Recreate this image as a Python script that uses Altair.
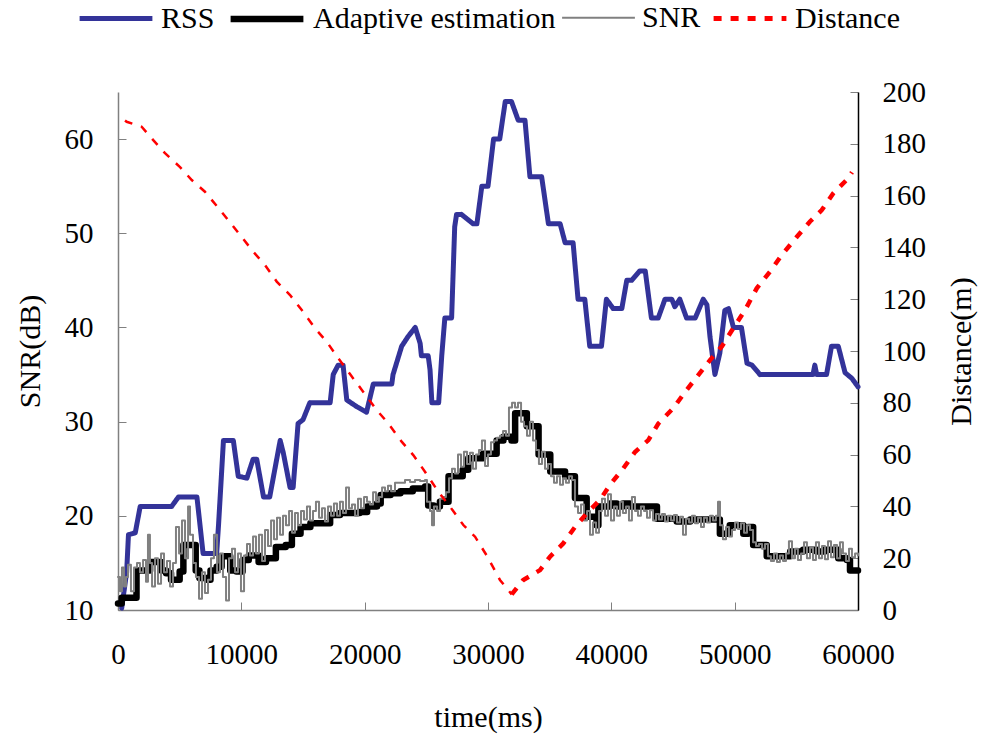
import altair as alt
import pandas as pd

# ---- series: time (ms) -> value ------------------------------------------
# RSS (dB, left axis)
rss_points = [
    (300, 10.2), (700, 14), (850, 18), (1400, 18.2), (1800, 21), (4350, 21),
    (4900, 22), (6400, 22), (6650, 19), (6900, 16), (8000, 16), (8150, 19),
    (8550, 28), (9350, 28), (9750, 24.2), (10450, 24), (10950, 26), (11250, 26),
    (11800, 22), (12300, 22), (13150, 28), (13400, 26.7), (13950, 23), (14200, 23),
    (14600, 29.8), (15000, 30.2), (15550, 32), (17200, 32), (17450, 35), (17850, 36),
    (18250, 36), (18550, 32.3), (19350, 31.6), (20150, 31), (20700, 34), (22200, 34),
    (22300, 35), (23000, 38), (23500, 39), (24100, 40), (24500, 38.3), (24600, 37),
    (25150, 37), (25300, 35.5), (25450, 32), (26000, 32), (26250, 37), (26500, 41),
    (27050, 41), (27300, 50.7), (27450, 52), (27850, 52), (28800, 51), (29100, 51),
    (29500, 55), (30000, 55), (30450, 60), (30950, 60), (31400, 64), (31900, 64),
    (32450, 62), (33000, 62), (33400, 56), (34350, 56), (34900, 51), (35850, 51),
    (36250, 49), (36900, 49), (37300, 43), (37850, 43), (38250, 38), (39200, 38),
    (39600, 43), (40150, 42), (40850, 42), (41250, 45), (41650, 45), (42300, 46),
    (42750, 46), (43250, 41), (43800, 41), (44350, 43), (44900, 43), (45150, 42.2),
    (45550, 43), (46100, 41), (46800, 41), (47450, 43), (47750, 42.4), (48000, 39),
    (48400, 35), (48800, 37.3), (49200, 41.8), (49500, 42), (49900, 40), (50550, 40),
    (51000, 36.2), (51400, 36), (52050, 35), (56350, 35), (56500, 36), (56650, 35),
    (57450, 35), (57850, 38), (58400, 38), (58950, 35.2), (59500, 34.6), (60000, 33.7),
]

# Adaptive estimation (dB, left axis), held value between updates
adaptive_points = [
    (0, 10.7), (300, 11.3), (1500, 14.2), (2600, 15.1), (3500, 14.2), (3900, 13.9),
    (4300, 13.2), (5000, 14.1), (5300, 16.9), (6300, 14.2), (6600, 13.4), (7200, 13.2),
    (7500, 14.2), (8000, 14.6), (8400, 15.7), (9100, 14.2), (9600, 14.1), (10100, 15.3),
    (10600, 15.8), (11400, 15.1), (12000, 15.5), (12800, 16.7), (13600, 16.9), (14100, 18.1),
    (14800, 18.8), (15600, 19.2), (17200, 20.1), (18000, 20.3), (19600, 20.4), (20200, 21.0),
    (21000, 21.3), (21300, 22.2), (22100, 22.4), (22900, 22.6), (23900, 22.9), (24900, 23.1),
    (25150, 21.1), (25600, 21.0), (26100, 21.5), (26800, 24.2), (27950, 24.9), (28400, 26.1),
    (29600, 26.6), (30700, 28.0), (31250, 28.4), (31900, 28.0), (32200, 30.9), (33150, 29.5),
    (34100, 26.5), (35050, 24.7), (36250, 24.2), (37050, 21.9), (38000, 19.9), (38800, 19.0),
    (38950, 21.0), (39900, 21.3), (40450, 21.0), (40950, 21.3), (41500, 21.0), (43700, 19.7),
    (45300, 19.4), (46400, 19.6), (48800, 18.1), (49600, 19.0), (50700, 18.1), (51100, 18.8),
    (51500, 16.9), (52600, 15.7), (54500, 16.2), (55550, 16.4), (56650, 16.2), (57300, 16.4),
    (58400, 15.5), (59100, 15.3), (59350, 14.2), (60000, 14.2),
]

# Measured SNR (dB, left axis)
snr_points = [
    (0, 13.5), (160, 12), (320, 14.5), (490, 12.5), (650, 13.5), (810, 14.8), (1050, 12),
    (1300, 14.5), (1540, 15), (1780, 14), (2030, 15.3), (2270, 13), (2430, 18), (2590, 15),
    (2760, 12.5), (3000, 15.5), (3240, 12.8), (3490, 16), (3730, 14), (3970, 15.2),
    (4220, 12.5), (4460, 15), (4700, 18.8), (4950, 16), (5190, 19.5), (5430, 15.5),
    (5680, 21), (5840, 18), (6080, 15), (6320, 13.5), (6570, 11.2), (6810, 14), (7050, 11.8),
    (7300, 13.2), (7540, 15.5), (7780, 18), (8030, 14), (8270, 16), (8510, 13.5), (8760, 11),
    (9000, 15.5), (9240, 16.5), (9490, 14), (9730, 16), (9970, 12), (10220, 15.8), (10460, 17),
    (10700, 15.8), (10950, 17.8), (11190, 16), (11430, 18), (11680, 15.2), (11920, 18.5),
    (12160, 16.8), (12410, 19.5), (12650, 17.5), (12890, 19.8), (13140, 18), (13380, 20),
    (13620, 19), (13870, 20.5), (14110, 18.2), (14350, 20.3), (14590, 19), (14840, 20.5),
    (15080, 19.6), (15320, 21), (15570, 19.5), (15810, 20.5), (16050, 21.5), (16300, 19.8),
    (16540, 20.8), (16780, 19.4), (17030, 21), (17270, 20), (17510, 21.3), (17760, 20),
    (18000, 21.5), (18240, 20.3), (18490, 23), (18730, 20.8), (18970, 21.2), (19220, 20),
    (19460, 21.8), (19700, 20.8), (19950, 22), (20190, 21.5), (20430, 21.2), (20680, 22.5),
    (20920, 21.5), (21160, 22), (21410, 23), (21650, 22.6), (21890, 23.2), (22140, 22.6),
    (22460, 23.5), (22860, 23.5), (23270, 23.8), (23680, 23.6), (24080, 23.8), (24490, 23.7),
    (24890, 23.8), (25050, 21.5), (25300, 20.5), (25460, 19), (25620, 21), (25870, 20.5),
    (26110, 21.8), (26350, 22), (26590, 22.5), (26840, 24), (27080, 25), (27320, 24.5),
    (27570, 26.5), (27810, 25.2), (28050, 26.8), (28300, 25.5), (28540, 26.7), (28780, 25),
    (29030, 26.5), (29270, 27), (29510, 28), (29760, 25.3), (30000, 26.5), (30240, 27.8),
    (30490, 28), (30730, 28.3), (30970, 28.5), (31220, 29), (31460, 28.5), (31700, 31.5),
    (31950, 32), (32190, 31.5), (32430, 32), (32680, 30), (32920, 29.5), (33160, 28.5),
    (33400, 30), (33650, 28), (33890, 27), (34130, 25.5), (34380, 26.8), (34620, 25),
    (34860, 25.5), (35110, 24.2), (35350, 23.5), (35590, 24.2), (35840, 23.3), (36080, 24),
    (36320, 23.5), (36570, 24.2), (36810, 23.8), (37050, 21), (37300, 20.3), (37540, 21.2),
    (37780, 19.5), (38030, 20.5), (38270, 18), (38510, 19.3), (38760, 18.2), (39000, 20.5),
    (39240, 21.8), (39490, 20), (39730, 22.3), (39970, 19.5), (40220, 21), (40460, 20),
    (40700, 21.5), (40940, 20.3), (41190, 21), (41430, 19.5), (41670, 22), (41920, 20.5),
    (42160, 20), (42400, 21), (42650, 20.5), (42890, 19.8), (43130, 20.6), (43380, 19.5),
    (43620, 20.2), (43860, 19.6), (44110, 20.2), (44350, 19.4), (44590, 20), (44840, 19.5),
    (45080, 20.1), (45320, 19.3), (45570, 19.9), (45810, 18), (46050, 19.7), (46300, 19.3),
    (46540, 20), (46780, 19.2), (47030, 19.8), (47270, 18.8), (47510, 19.8), (47760, 19.3),
    (48000, 20), (48240, 19.5), (48480, 20), (48650, 21.5), (48810, 19), (49050, 17.5),
    (49300, 18.8), (49540, 17.8), (49780, 18.5), (50030, 19.3), (50270, 18.6), (50510, 19.2),
    (50760, 18.2), (51000, 19), (51240, 18.5), (51490, 17.2), (51730, 16.8), (51970, 17),
    (52220, 16.5), (52460, 17), (52700, 15.7), (52940, 15.2), (53190, 16), (53430, 15.1),
    (53670, 15.8), (53920, 15.2), (54160, 16), (54400, 17.3), (54650, 15.5), (54890, 16.5),
    (55130, 15.3), (55380, 16), (55620, 17.2), (55860, 15.5), (56110, 16.6), (56350, 15.3),
    (56590, 17.2), (56840, 15.5), (57080, 16.8), (57320, 15.4), (57570, 17.3), (57810, 15.6),
    (58050, 16.9), (58300, 15.5), (58540, 17.2), (58780, 16), (59030, 15.2), (59270, 16.5),
    (59510, 15.6), (59760, 16), (60000, 15.8),
]

# Distance to the access point (m, right axis)
distance_points = [
    (570, 189), (705, 188.5), (1920, 186.6), (2840, 181.5), (3810, 176.4), (5030, 171),
    (5980, 166), (7050, 161.5), (8000, 156), (8940, 150.5), (10030, 144), (10970, 138.3),
    (11920, 133.2), (12870, 126.8), (13950, 121.6), (14900, 115.8), (15970, 108.8),
    (16920, 103.6), (17860, 97.2), (18810, 91.1), (19890, 84.2), (20980, 77.2), (21920, 72),
    (23000, 65), (23940, 59.8), (24890, 53.4), (25970, 45.7), (26920, 39.9), (28000, 32.8),
    (28950, 28.3), (29900, 21), (30970, 11.6), (31920, 6), (32860, 11.6), (34220, 15.4),
    (35030, 20.6), (36100, 25.7), (37050, 32), (38000, 37.3), (39080, 42.5), (39890, 48.3),
    (40970, 54.7), (41920, 61), (43000, 65.6), (43810, 72), (45020, 77.9), (46110, 85),
    (47050, 90.7), (48000, 96.5), (48950, 101.7), (49890, 108.8), (50840, 115.8),
    (51790, 124.2), (52860, 130.6), (53810, 137), (55030, 144), (56110, 150), (57060, 154.4),
    (58000, 160.9), (59210, 166.7), (59510, 169),
]

# ---- axes ticks / legend styling -------------------------------------------
time_ticks = [0, 10000, 20000, 30000, 40000, 50000, 60000]
snr_ticks = [10, 20, 30, 40, 50, 60]
distance_ticks = [0, 20, 40, 60, 80, 100, 120, 140, 160, 180, 200]

series_names = ["RSS", "Adaptive estimation", "SNR", "Distance"]
series_colors = ["#333399", "#000000", "#808080", "#ff0000"]
series_widths = [5, 6.5, 2, 5]
series_dashes = [[1, 0], [1, 0], [1, 0], [8, 9]]

FONT = "Liberation Serif"


def frame(points, name):
    df = pd.DataFrame(points, columns=["t", "value"])
    df["series"] = name
    return df


rss_df = frame(rss_points, "RSS")
adaptive_df = frame(adaptive_points, "Adaptive estimation")
snr_df = frame(snr_points, "SNR")
distance_df = frame(distance_points, "Distance")
t_closest = float(distance_df.loc[distance_df["value"].idxmin(), "t"])

inward = {"expr": "-8"}

x_axis = alt.Axis(
    values=time_ticks, format="d", title="time(ms)", tickSize=inward,
    tickColor="#808080", domainColor="#808080", domainWidth=1.5, labelPadding=38,
    labelFlush=False, titleY=107, titleBaseline="middle",
)
left_axis = alt.Axis(
    values=snr_ticks, title="SNR(dB)", tickSize=inward, tickColor="#808080",
    domainColor="#808080", domainWidth=1.5, labelPadding=33,
    titleX=-88, titleBaseline="middle", titleAngle=270,
)
right_axis = alt.Axis(
    values=distance_ticks, title="Distance(m)", orient="right", tickSize=inward,
    tickColor="#808080", domainColor="#000000", domainWidth=1.5, labelPadding=32,
    titleX=103, titleBaseline="middle", titleAngle=270,
)

x_enc = alt.X("t:Q", scale=alt.Scale(domain=[0, 60000], nice=False), axis=x_axis)
y_left = alt.Y("value:Q", scale=alt.Scale(domain=[10, 65], nice=False), axis=left_axis)
y_right = alt.Y("value:Q", scale=alt.Scale(domain=[0, 200], nice=False), axis=right_axis)

color_enc = alt.Color(
    "series:N", title=None,
    scale=alt.Scale(domain=series_names, range=series_colors),
)
width_enc = alt.StrokeWidth(
    "series:N", title=None,
    scale=alt.Scale(type="ordinal", domain=series_names, range=series_widths),
)
dash_enc = alt.StrokeDash(
    "series:N", title=None,
    scale=alt.Scale(domain=series_names, range=series_dashes),
)


def snr_layer(df, interpolate):
    return alt.Chart(df).mark_line(
        interpolate=interpolate, strokeJoin="round", strokeCap="round"
    ).encode(x=x_enc, y=y_left, color=color_enc, strokeWidth=width_enc, strokeDash=dash_enc)


left = alt.layer(
    snr_layer(rss_df, "linear"),
    snr_layer(adaptive_df, "step-after"),
    snr_layer(snr_df, "step-after"),
)

dist_base = alt.Chart(distance_df)
dist_approach = dist_base.transform_filter(alt.datum.t <= t_closest).mark_line(
    strokeWidth=2.5
).encode(x=x_enc, y=y_right, color=color_enc, strokeDash=dash_enc)
dist_leave = dist_base.transform_filter(alt.datum.t >= t_closest).mark_line(
    strokeWidth=4.5
).encode(x=x_enc, y=y_right, color=color_enc, strokeDash=dash_enc)

right = alt.layer(dist_approach, dist_leave)

chart = (
    alt.layer(left, right)
    .resolve_scale(y="independent")
    .properties(
        width=740,
        height=518,
        autosize=alt.AutoSizeParams(type="none"),
        padding={"left": 118, "top": 92, "right": 123, "bottom": 128},
        background="white",
    )
    .configure_view(stroke=None)
    .configure_axis(
        grid=False,
        labelFont=FONT,
        labelFontSize=29,
        labelColor="#000000",
        titleFont=FONT,
        titleFontSize=30,
        titleFontWeight="normal",
        titleColor="#000000",
    )
    .configure_legend(
        orient="none",
        legendX=-41,
        legendY=-113,
        direction="horizontal",
        symbolType="stroke",
        symbolSize=5300,
        labelFont=FONT,
        labelFontSize=30,
        labelColor="#000000",
        labelLimit=400,
        labelOffset=6,
        columnPadding=2,
    )
)

chart.save("out.html", embed_options={"renderer": "svg", "actions": False})
